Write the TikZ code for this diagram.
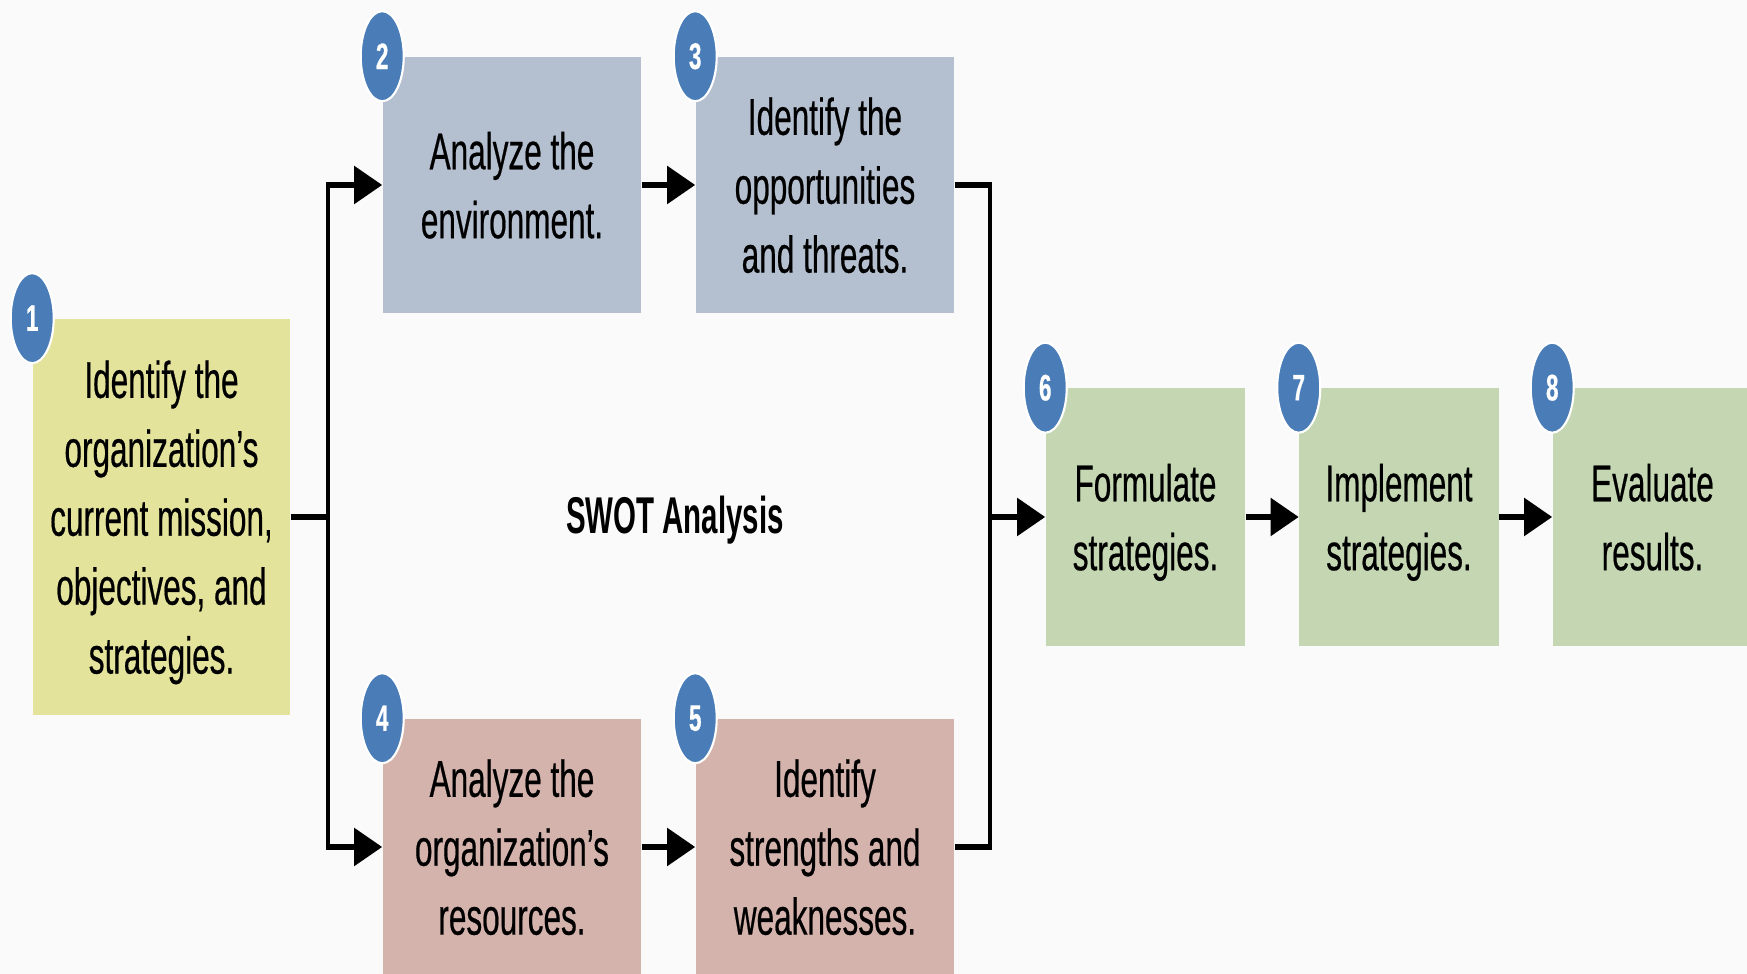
\documentclass[tikz,border=0pt]{standalone}
\usepackage{fontspec}
\setmainfont{Liberation Sans}[FakeStretch=0.61, FakeBold=0.4]
\newfontfamily\swotfont{Liberation Sans}[FakeStretch=0.57]
\usetikzlibrary{arrows.meta}
\usetikzlibrary{shapes.geometric}
\definecolor{mission}{RGB}{228,227,156}
\definecolor{external}{RGB}{180,191,208}
\definecolor{internal}{RGB}{213,179,173}
\definecolor{strategy}{RGB}{196,215,178}
\definecolor{badgeblue}{RGB}{74,125,184}
\definecolor{paper}{RGB}{250,250,250}
\tikzset{
	stepbox/.style={rectangle, inner sep=0pt, align=center, text depth=-3pt,
		font=\fontsize{14.7}{19.6}\selectfont},
	badge/.style={ellipse, fill=badgeblue, draw=white, line width=0.6pt,
		minimum width=0.43cm, minimum height=0.9cm, inner sep=0pt, text=white,
		font=\bfseries\fontsize{10.5}{12}\selectfont},
	flow/.style={line width=1.7pt},
	bus/.style={line width=1pt, shorten <=-0.85pt, shorten >=-0.85pt},
	arrowhead/.style={-{Triangle[length=8pt,width=10.5pt]}}
}
\begin{document}
\begin{tikzpicture}[x=0.01cm, y=-0.01cm]
	\clip (0,0) rectangle (1747,974);
	\fill[paper] (0,0) rectangle (1747,974);
	
	% mission
	\node[stepbox, fill=mission, minimum width=2.57cm, minimum height=3.96cm] (b1) at (161.5,517)
	{Identify the\\organization’s\\current mission,\\objectives, and\\strategies.};
	
	% external
	\node[stepbox, fill=external, minimum width=2.58cm, minimum height=2.56cm] (b2) at (512,185)
	{Analyze the\\environment.};
	\node[stepbox, fill=external, minimum width=2.58cm, minimum height=2.56cm] (b3) at (825,185)
	{Identify the\\opportunities\\and threats.};
	
	% internal
	\node[stepbox, fill=internal, minimum width=2.58cm, minimum height=2.56cm] (b4) at (512,847)
	{Analyze the\\organization’s\\resources.};
	\node[stepbox, fill=internal, minimum width=2.58cm, minimum height=2.56cm] (b5) at (825,847)
	{Identify\\strengths and\\weaknesses.};
	
	% strategies
	\node[stepbox, fill=strategy, minimum width=1.99cm, minimum height=2.57cm] (b6) at (1145.5,517)
	{Formulate\\strategies.};
	\node[stepbox, fill=strategy, minimum width=1.99cm, minimum height=2.57cm] (b7) at (1399,517)
	{Implement\\strategies.};
	\node[stepbox, fill=strategy, minimum width=1.99cm, minimum height=2.57cm] (b8) at (1652.5,517)
	{Evaluate\\results.};
	
	\node[font=\swotfont\bfseries\fontsize{14.7}{16}\selectfont] (swot) at (675,520) {SWOT Analysis};
	
	% badges
	\foreach \n in {1,...,8}
		\node[badge] (n\n) at (b\n.north west) {\n};
	
	% split to the SWOT analysis
	\coordinate (ltop) at (328,185);
	\coordinate (lmid) at (328,517);
	\coordinate (lbot) at (328,847);
	\draw[flow] (b1.east) -- (lmid);
	\draw[bus] (ltop) -- (lbot);
	\draw[flow, arrowhead] (ltop) -- (b2.west);
	\draw[flow, arrowhead] (lbot) -- (b4.west);
	\draw[flow, arrowhead] (b2.east) -- (b3.west);
	\draw[flow, arrowhead] (b4.east) -- (b5.west);
	
	% join of the SWOT analysis
	\coordinate (rtop) at (990,185);
	\coordinate (rmid) at (990,517);
	\coordinate (rbot) at (990,847);
	\draw[flow] (b3.east) -- (rtop);
	\draw[flow] (b5.east) -- (rbot);
	\draw[bus] (rtop) -- (rbot);
	\draw[flow, arrowhead] (rmid) -- (b6.west);
	\draw[flow, arrowhead] (b6.east) -- (b7.west);
	\draw[flow, arrowhead] (b7.east) -- (b8.west);
\end{tikzpicture}
\end{document}
